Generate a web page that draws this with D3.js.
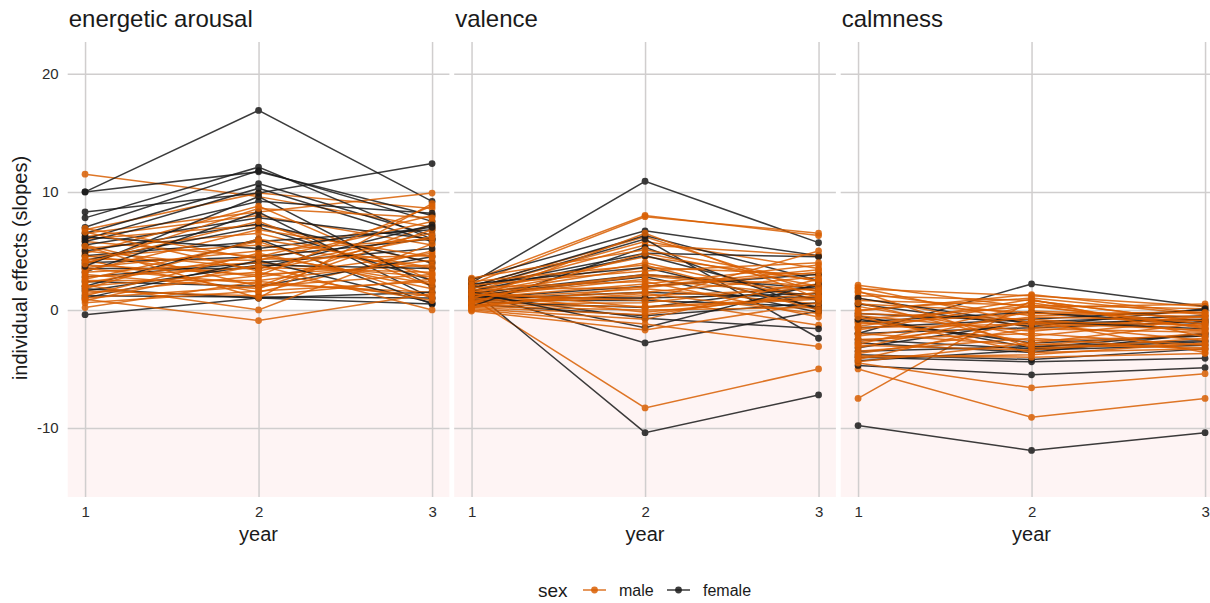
<!DOCTYPE html>
<html lang="en">
<head>
<meta charset="UTF-8">
<title>Individual effects by year</title>
<script src="https://d3js.org/d3.v7.min.js"></script>
<style>
    body { margin: 0; background: #fff; font-family: "Liberation Sans", Arial, sans-serif; }
    svg { display: block; }
    .grid line { stroke: #d0cece; stroke-width: 1.5; }
    .grid path { display: none; }
    .axis path, .axis line { display: none; }
    .axis text { fill: #2b2b2b; font-size: 15px; font-family: "Liberation Sans", Arial, sans-serif; }
</style>
</head>
<body>
<div id="chart"></div>
<script>
    const years = [1, 2, 3];
    const panelTitles = ["energetic arousal", "valence", "calmness"];
    const yTicks = [-10, 0, 10, 20];

    // one row per person: slope in year 1, 2, 3
    const arousalMale = [
        [11.5, 9.6, 7.0], [6.8, 9.9, 8.6], [6.5, 8.3, 9.9], [6.2, 8.0, 5.5], [6.0, 7.2, 4.0],
        [5.8, 4.5, 8.0], [5.5, 2.0, 7.2], [5.2, 6.5, 3.0], [5.0, 3.5, 6.5], [4.8, 8.8, 2.5],
        [4.6, 2.8, 4.8], [4.5, 5.5, 3.5], [4.3, 4.2, 7.5], [4.2, 1.5, 5.0], [4.0, 7.5, 2.0],
        [3.8, 3.0, 3.8], [3.6, 5.0, 6.0], [3.5, 2.2, 1.5], [3.3, 6.8, 4.5], [3.2, 4.0, 2.8],
        [3.0, 1.8, 6.8], [2.8, 3.6, 3.2], [2.6, 5.8, 1.0], [2.5, 2.5, 4.2], [2.3, 4.6, 2.2],
        [2.1, 0.0, 5.6], [2.0, 3.2, 0.8], [1.8, 6.0, 3.6], [1.6, 1.2, 2.6], [1.4, 2.9, 8.8],
        [1.2, 4.8, 1.8], [1.0, 2.0, 3.0], [0.9, -0.9, 1.4], [0.8, 3.8, 0.0], [0.6, 1.6, 2.4],
        [0.2, 2.4, 1.2], [6.9, 4.3, 4.6], [6.6, 3.3, 6.2], [5.4, 1.0, 9.0], [3.9, 8.6, 7.8]
    ];
    const arousalFemale = [
        [10.0, 16.9, 9.2], [10.0, 11.7, 8.0], [8.3, 9.9, 12.4], [7.8, 12.1, 6.0], [7.0, 11.8, 7.5],
        [6.5, 10.7, 6.3], [6.0, 10.3, 5.8], [5.8, 9.2, 8.2], [5.5, 7.8, 6.0], [5.0, 7.3, 4.0],
        [4.6, 5.8, 6.8], [4.2, 7.0, 2.5], [4.0, 4.5, 6.0], [3.5, 3.5, 7.2], [3.2, 8.3, 1.0],
        [2.8, 4.0, 5.2], [2.4, 2.0, 4.5], [2.0, 6.0, 0.5], [1.8, 1.0, 1.5], [1.6, 3.8, 3.5],
        [1.2, 1.1, 1.0], [1.0, 4.2, 0.6], [-0.4, 1.0, 0.5], [3.7, 9.6, 2.0], [6.2, 5.2, 7.0]
    ];
    const valenceMale = [
        [1.0, -8.3, -5.0], [2.5, 8.0, 6.3], [2.2, 7.9, 6.5], [2.0, 6.2, 1.5], [1.8, 5.8, 3.5],
        [1.6, 5.5, 4.6], [1.5, 4.5, 2.5], [1.4, 4.0, 0.8], [1.3, 3.6, 3.0], [1.2, 3.0, 2.0],
        [1.1, 2.6, 1.2], [1.0, 2.2, 3.8], [0.9, 1.8, 0.5], [0.8, 1.5, 2.8], [0.7, 1.2, 1.8],
        [0.6, 1.0, -1.3], [0.5, 0.6, 2.2], [0.4, 0.3, 1.0], [0.3, 0.0, 0.2], [0.2, -0.4, 1.5],
        [0.1, -0.8, 2.6], [0.0, -1.2, -3.1], [-0.1, -1.7, 0.6], [1.9, 2.4, -0.6], [2.1, 3.3, 4.0],
        [1.7, 1.9, 3.2], [1.3, 0.8, 5.0], [0.9, 6.5, 1.0], [0.6, 4.8, 2.0], [2.4, 3.8, 0.0],
        [1.1, 2.9, 1.6], [0.4, 1.4, -0.3], [1.6, 0.2, 0.9], [2.7, 5.1, 2.4], [0.2, 2.0, 3.4],
        [1.4, -0.2, 1.2]
    ];
    const valenceFemale = [
        [2.3, 10.9, 5.7], [1.7, -10.4, -7.2], [1.5, -2.8, -0.1], [2.6, 6.7, 4.6], [2.0, 6.3, 2.5],
        [1.8, 6.0, -2.4], [1.9, 4.8, 4.5], [1.6, 4.6, 0.8], [1.4, 3.0, 1.8], [1.2, 2.8, -0.2],
        [1.0, 2.0, 3.0], [0.9, 1.5, 1.0], [0.8, 0.8, 0.3], [0.7, 0.2, 2.0], [0.5, -0.5, 0.6],
        [1.3, -0.7, -1.6], [1.1, 1.0, 1.4], [2.2, 3.6, 0.2], [0.3, 5.3, 0.0], [1.5, -1.5, 2.2]
    ];
    const calmnessMale = [
        [-7.5, 0.8, -1.0], [-5.0, -9.1, -7.5], [-4.5, -6.6, -5.4], [2.1, 0.2, 0.5], [1.8, 1.2, 0.3],
        [1.5, -0.5, -0.2], [1.2, 0.8, -1.0], [1.0, -1.5, -0.6], [0.8, 0.4, 0.1], [0.5, -0.2, -1.4],
        [0.3, -2.2, -0.8], [0.0, 1.0, -0.4], [-0.3, -0.8, -1.8], [-0.5, -1.8, -0.5], [-0.8, 0.3, -1.2],
        [-1.0, -2.6, -2.2], [-1.2, -0.3, -0.2], [-1.5, -1.2, -2.6], [-1.7, 0.6, -1.6], [-2.0, -3.0, -2.0],
        [-2.2, -0.6, -0.9], [-2.5, -2.0, -3.0], [-2.7, -1.0, -1.3], [-3.0, -3.4, -2.4], [-3.2, -0.1, -0.6],
        [-3.5, -2.4, -3.4], [-3.7, -1.6, -1.9], [-4.0, -3.8, -2.8], [-4.2, -0.9, -3.6], [-4.4, -2.8, -1.1],
        [1.6, -3.2, -2.9], [0.6, -2.9, -3.2], [-0.1, 1.3, -0.3], [-1.4, 0.9, -2.3], [-2.9, 0.4, -1.5],
        [-3.9, -4.0, -3.7], [1.9, -1.1, -1.7], [-0.6, -3.6, -3.3]
    ];
    const calmnessFemale = [
        [-9.8, -11.9, -10.4], [-4.7, -5.5, -4.9], [-2.0, 2.2, 0.3], [-4.0, -4.4, -4.1], [-0.3, -1.0, -0.5],
        [-0.5, -3.2, -2.0], [-2.0, -1.5, -1.0], [-2.5, -3.3, -2.7], [-3.5, -3.1, -2.6], [-1.5, -0.8, 0.0],
        [-3.8, -4.2, -3.3], [1.0, -1.2, -0.8], [-1.0, -0.2, -1.2], [0.5, -1.4, 0.1], [-2.8, -3.6, -2.0],
        [-3.2, -1.0, -1.6], [-0.8, -2.8, -2.2], [-4.3, -3.4, -3.0]
    ];

    const maleColor = "#d95f02";
    const femaleColor = "#1a1a1a";

    const panels = [
        { title: panelTitles[0], male: arousalMale, female: arousalFemale },
        { title: panelTitles[1], male: valenceMale, female: valenceFemale },
        { title: panelTitles[2], male: calmnessMale, female: calmnessFemale }
    ];

    const width = 1210, height = 603;
    const panelTop = 42, panelBottom = 497;
    const panelWidth = 381.7, panelStep = 386.5, firstPanelX = 67.7;

    const svg = d3.select("#chart").append("svg")
        .attr("width", width)
        .attr("height", height);

    const y = d3.scaleLinear()
        .domain([-15.85, 22.7])
        .range([panelBottom, panelTop]);

    const line = d3.line();

    panels.forEach((p, i) => {
        const x0 = firstPanelX + i * panelStep;
        const x = d3.scaleLinear()
            .domain([0.9, 3.1])
            .range([x0, x0 + panelWidth]);

        const g = svg.append("g");

        // shaded area below zero
        g.append("rect")
            .attr("x", x0)
            .attr("y", y(0))
            .attr("width", panelWidth)
            .attr("height", panelBottom - y(0))
            .attr("fill", "#fef4f4");

        // grid
        g.append("g")
            .attr("class", "grid")
            .attr("transform", `translate(${x0},0)`)
            .call(d3.axisLeft(y).tickValues(yTicks).tickSize(-panelWidth).tickFormat(""));
        g.append("g")
            .attr("class", "grid")
            .attr("transform", `translate(0,${panelTop})`)
            .call(d3.axisBottom(x).tickValues(years).tickSize(panelBottom - panelTop).tickFormat(""));

        // x axis labels
        g.append("g")
            .attr("class", "axis")
            .attr("transform", `translate(0,${panelBottom})`)
            .call(d3.axisBottom(x).tickValues(years).tickSize(0).tickPadding(9).tickFormat(d => String(d)));

        g.append("text")
            .attr("x", x(2))
            .attr("y", 541)
            .attr("text-anchor", "middle")
            .style("font-size", "20px")
            .style("fill", "#1a1a1a")
            .text("year");

        if (i === 0) {
            g.append("g")
                .attr("class", "axis")
                .attr("transform", `translate(${x0},0)`)
                .call(d3.axisLeft(y).tickValues(yTicks).tickSize(0).tickPadding(9).tickFormat(d => String(d)));
        }

        // panel title
        g.append("text")
            .attr("x", x0 + 1)
            .attr("y", 27)
            .style("font-size", "24px")
            .style("fill", "#1a1a1a")
            .text(p.title);

        // interleave people so neither group sits fully on top
        const people = [];
        const n = Math.max(p.male.length, p.female.length);
        for (let k = 0; k < n; k++) {
            if (k < p.male.length) people.push({ sex: "male", v: p.male[k] });
            if (k < p.female.length) people.push({ sex: "female", v: p.female[k] });
        }

        const person = g.selectAll(".person")
            .data(people)
            .enter()
            .append("g")
            .attr("class", "person")
            .attr("opacity", 0.85);

        person.append("path")
            .attr("d", d => line(d.v.map((v, j) => [x(years[j]), y(v)])))
            .attr("fill", "none")
            .attr("stroke", d => d.sex === "male" ? maleColor : femaleColor)
            .attr("stroke-width", 1.5);

        person.selectAll("circle")
            .data(d => d.v.map((v, j) => ({ sex: d.sex, year: years[j], v: v })))
            .enter()
            .append("circle")
            .attr("cx", d => x(d.year))
            .attr("cy", d => y(d.v))
            .attr("r", 3.4)
            .attr("fill", d => d.sex === "male" ? maleColor : femaleColor);
    });

    // y axis title
    svg.append("text")
        .attr("transform", `translate(27,268) rotate(-90)`)
        .attr("text-anchor", "middle")
        .style("font-size", "20px")
        .style("fill", "#1a1a1a")
        .text("individual effects (slopes)");

    // legend
    const legend = svg.append("g").attr("transform", "translate(0,590)");
    legend.append("text")
        .attr("x", 538)
        .attr("y", 7)
        .style("font-size", "19px")
        .style("fill", "#1a1a1a")
        .text("sex");

    const keys = [
        { label: "male", color: maleColor, x: 583 },
        { label: "female", color: femaleColor, x: 667 }
    ];
    const key = legend.selectAll(".key")
        .data(keys)
        .enter()
        .append("g")
        .attr("class", "key")
        .attr("transform", d => `translate(${d.x},0)`);
    key.append("line")
        .attr("x1", 0).attr("x2", 23)
        .attr("stroke", d => d.color)
        .attr("stroke-width", 1.5)
        .attr("opacity", 0.85);
    key.append("circle")
        .attr("cx", 11.5)
        .attr("r", 3.4)
        .attr("fill", d => d.color)
        .attr("opacity", 0.85);
    key.append("text")
        .attr("x", 36)
        .attr("y", 5.5)
        .style("font-size", "16px")
        .style("fill", "#1a1a1a")
        .text(d => d.label);
</script>
</body>
</html>
